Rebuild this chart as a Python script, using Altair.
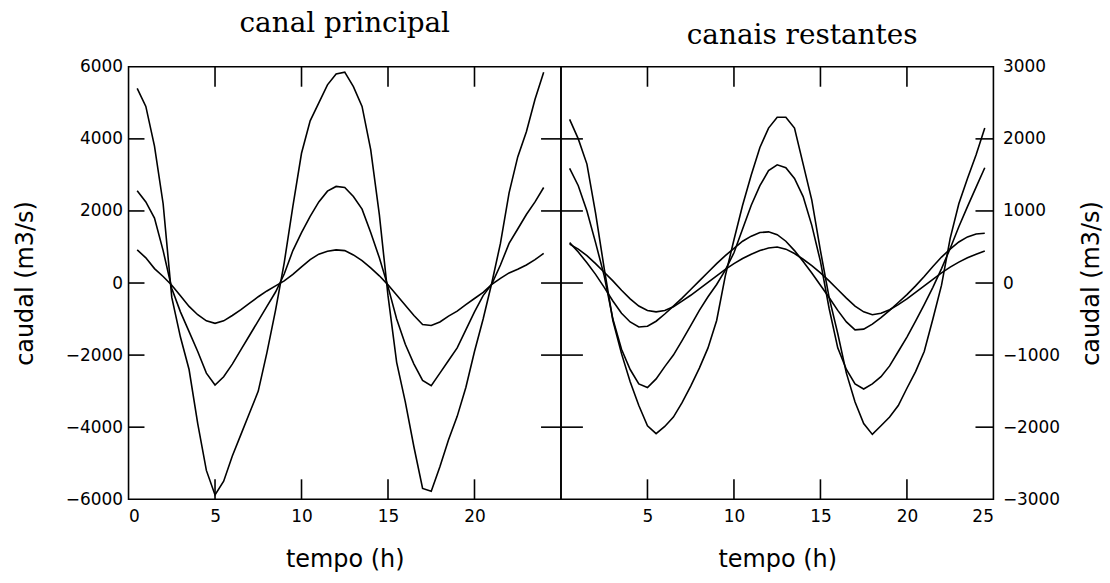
import altair as alt
import pandas as pd

# ---------------- data ----------------
t_left = [0.5, 1.0, 1.5, 2.0, 2.5, 3.0, 3.5, 4.0, 4.5, 5.0, 5.5, 6.0, 6.5, 7.0, 7.5, 8.0,
          8.5, 9.0, 9.5, 10.0, 10.5, 11.0, 11.5, 12.0, 12.5, 13.0, 13.5, 14.0, 14.5, 15.0,
          15.5, 16.0, 16.5, 17.0, 17.5, 18.0, 18.5, 19.0, 19.5, 20.0, 20.5, 21.0, 21.5,
          22.0, 22.5, 23.0, 23.5, 24.0]
principal_grande = [5400, 4900, 3800, 2200, -400, -1500, -2400, -3900, -5200, -5880,
                    -5500, -4800, -4200, -3600, -3000, -1930, -750, 560, 2130, 3600,
                    4500, 5000, 5500, 5800, 5850, 5450, 4900, 3700, 1900, -350,
                    -2200, -3300, -4550, -5700, -5780, -5100, -4350, -3700, -2900, -1900,
                    -1000, 0, 1100, 2500, 3500, 4200, 5100, 5850]
principal_media = [2560, 2250, 1800, 900, -150, -800, -1350, -1900, -2500, -2830,
                   -2600, -2250, -1850, -1450, -1050, -650, -250, 250, 900, 1400,
                   1850, 2250, 2550, 2680, 2650, 2400, 2050, 1400, 700, -100,
                   -1000, -1700, -2250, -2700, -2850, -2500, -2150, -1800, -1300, -800,
                   -350, -30, 500, 1100, 1500, 1900, 2250, 2650]
principal_pequena = [920, 700, 400, 180, -60, -350, -650, -880, -1050, -1120,
                     -1050, -900, -740, -560, -380, -220, -80, 60, 240, 450,
                     650, 800, 880, 920, 900, 780, 620, 420, 200, -50,
                     -330, -620, -900, -1150, -1180, -1080, -920, -780, -600, -430,
                     -260, -40, 130, 280, 380, 500, 650, 820]

t_right = [0.5, 1.0, 1.5, 2.0, 2.5, 3.0, 3.5, 4.0, 4.5, 5.0, 5.5, 6.0, 6.5, 7.0, 7.5, 8.0,
           8.5, 9.0, 9.5, 10.0, 10.5, 11.0, 11.5, 12.0, 12.5, 13.0, 13.5, 14.0, 14.5, 15.0,
           15.5, 16.0, 16.5, 17.0, 17.5, 18.0, 18.5, 19.0, 19.5, 20.0, 20.5, 21.0, 21.5,
           22.0, 22.5, 23.0, 23.5, 24.0, 24.5]
restantes_a = [2270, 2000, 1650, 970, 200, -520, -980, -1370, -1700, -1980,
               -2090, -1990, -1860, -1660, -1430, -1180, -900, -520, 100, 600,
               1080, 1500, 1880, 2150, 2300, 2300, 2150, 1650, 1150, 450,
               -200, -700, -1250, -1650, -1950, -2100, -1980, -1860, -1700, -1460,
               -1230, -950, -500, -30, 620, 1100, 1450, 1780, 2150]
restantes_b = [1590, 1350, 1000, 560, 100, -500, -920, -1200, -1400, -1450,
               -1330, -1160, -1000, -800, -590, -380, -190, -20, 180, 420,
               750, 1080, 1350, 1560, 1640, 1600, 1450, 1200, 800, 300,
               -350, -900, -1200, -1400, -1470, -1400, -1300, -1150, -950, -750,
               -530, -300, -60, 200, 480, 780, 1060, 1330, 1600]
restantes_c = [560, 430, 280, 120, -60, -250, -420, -540, -610, -600,
               -530, -430, -320, -210, -90, 30, 150, 270, 380, 480,
               580, 650, 700, 710, 670, 580, 450, 300, 140, -30,
               -200, -380, -540, -650, -640, -570, -480, -380, -270, -160,
               -40, 90, 230, 360, 470, 570, 640, 680, 690]
restantes_d = [540, 470, 380, 270, 150, 30, -100, -220, -320, -380,
               -400, -380, -330, -250, -170, -80, 10, 100, 190, 270,
               340, 400, 450, 485, 500, 470, 410, 330, 240, 140,
               30, -90, -210, -320, -400, -440, -420, -370, -300, -220,
               -130, -40, 50, 140, 220, 290, 350, 400, 445]

x_labels_left = [0, 5, 10, 15, 20]
x_labels_right = [5, 10, 15, 20, 25]
x_inner_ticks = [5, 10, 15, 20]
y_labels_left = [-6000, -4000, -2000, 0, 2000, 4000, 6000]
y_ticks_left = [-4000, -2000, 0, 2000, 4000]
y_labels_right = [-3000, -2000, -1000, 0, 1000, 2000, 3000]
y_ticks_right = [-2000, -1000, 0, 1000, 2000]


def long_df(t, series):
    rows = []
    for name, vals in series.items():
        for ti, v in zip(t, vals):
            rows.append({"t": ti, "q": v, "serie": name})
    return pd.DataFrame(rows)


df_left = long_df(t_left, {"g": principal_grande, "m": principal_media, "p": principal_pequena})
df_right = long_df(t_right, {"a": restantes_a, "b": restantes_b, "c": restantes_c, "d": restantes_d})

W, H = 434, 434
TL = 20  # tick length in px
SW = 1.6

xs = alt.Scale(domain=[0, 25], nice=False, zero=False)
ys_left = alt.Scale(domain=[-6000, 6000], nice=False)
ys_right = alt.Scale(domain=[-3000, 3000], nice=False)

ax_x_left = alt.Axis(values=x_labels_left, format="d", title="tempo (h)", ticks=False,
                     domain=False, grid=False, labelPadding=9, titlePadding=24)
ax_x_right = alt.Axis(values=x_labels_right, format="d", title="tempo (h)", ticks=False,
                      domain=False, grid=False, labelPadding=9, titlePadding=24)
ax_y_left = alt.Axis(values=y_labels_left, format="d", title="caudal (m3/s)", ticks=False,
                     domain=False, grid=False, labelPadding=6, titlePadding=28)
ax_y_right = alt.Axis(values=y_labels_right, format="d", title="caudal (m3/s)", orient="right",
                      ticks=False, domain=False, grid=False, labelPadding=9, titlePadding=20,
                      titleAngle=270, titleBaseline="top")


def xticks(vals, ax):
    d = pd.DataFrame({"t": vals})
    top = alt.Chart(d).mark_rule(color="black", strokeWidth=SW).encode(
        x=alt.X("t:Q", scale=xs, axis=ax), y=alt.value(0), y2=alt.value(TL))
    bot = alt.Chart(d).mark_rule(color="black", strokeWidth=SW).encode(
        x=alt.X("t:Q", scale=xs, axis=ax), y=alt.value(H), y2=alt.value(H - TL))
    return [top, bot]


def yticks(vals, scale, ax, x0, x1):
    d = pd.DataFrame({"q": vals})
    return alt.Chart(d).mark_rule(color="black", strokeWidth=SW).encode(
        y=alt.Y("q:Q", scale=scale, axis=ax), x=alt.value(x0), x2=alt.value(x1))


left_lines = alt.Chart(df_left).mark_line(color="black", strokeWidth=SW).encode(
    x=alt.X("t:Q", scale=xs, axis=ax_x_left),
    y=alt.Y("q:Q", scale=ys_left, axis=ax_y_left),
    detail="serie:N",
)

# ticks of the right-hand scale drawn across the shared border: left half in the left panel
boundary_left_half = alt.Chart(pd.DataFrame({"q2": y_ticks_right})).mark_rule(
    color="black", strokeWidth=SW).encode(
    y=alt.Y("q2:Q", scale=ys_right, axis=None), x=alt.value(W - 20), x2=alt.value(W))

left = alt.layer(
    left_lines, *xticks(x_inner_ticks, ax_x_left), yticks(y_ticks_left, ys_left, ax_y_left, 0, 16),
).properties(width=W, height=H,
             title=alt.TitleParams("canal principal", offset=20))

left_full = alt.layer(left, boundary_left_half).resolve_scale(y="independent")

right_lines = alt.Chart(df_right).mark_line(color="black", strokeWidth=SW).encode(
    x=alt.X("t:Q", scale=xs, axis=ax_x_right),
    y=alt.Y("q:Q", scale=ys_right, axis=ax_y_right),
    detail="serie:N",
)

right = alt.layer(
    right_lines, *xticks(x_inner_ticks, ax_x_right),
    yticks(y_ticks_right, ys_right, ax_y_right, W - 18, W),
    yticks(y_ticks_right, ys_right, ax_y_right, 0, 22),
).properties(width=W, height=H,
             title=alt.TitleParams("canais restantes", offset=20, dx=25, dy=12))

chart = alt.hconcat(left_full, right, spacing=0, bounds="flush").properties(
    padding={"left": 12, "top": 8, "right": 5, "bottom": 5},
    background="white",
).configure_concat(
    spacing=0
).configure_view(
    stroke="black", strokeWidth=SW
).configure_axis(
    labelFont="DejaVu Sans", labelFontSize=17, labelColor="black",
    titleFont="DejaVu Sans", titleFontSize=24, titleFontWeight="normal", titleColor="black",
).configure_title(
    font="DejaVu Serif", fontSize=28, fontWeight="normal", color="black",
)

chart.save("out.html", embed_options={"renderer": "svg", "actions": False})
